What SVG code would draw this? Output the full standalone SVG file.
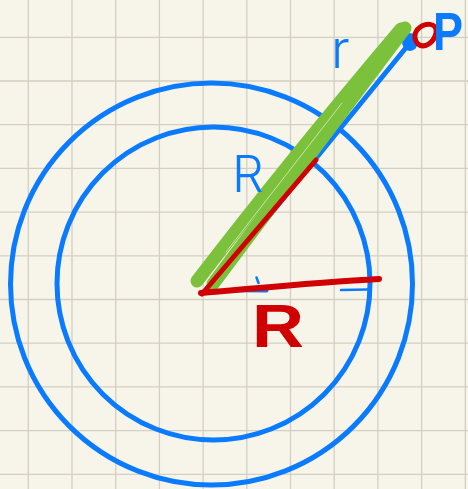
<svg xmlns="http://www.w3.org/2000/svg" width="468" height="489" viewBox="0 0 468 489">
<style>
.grid{stroke:#d3cfc1;stroke-width:1.3;fill:none}
.blue{stroke:#0a7bff;fill:none;stroke-linecap:round;stroke-linejoin:round}
.red{stroke:#d10000;fill:none;stroke-linecap:round;stroke-linejoin:round}
.green{stroke:#7cc13b;fill:none;stroke-linecap:round}
.lbl{font-family:"Liberation Sans",Arial,sans-serif}
</style>
<rect width="468" height="489" fill="#f7f5ea"/>
<g id="grid" class="grid">
<path d="M28.3,0V489M72,0V489M115.7,0V489M159.4,0V489M203.1,0V489M246.8,0V489M290.5,0V489M334.2,0V489M377.9,0V489M421.6,0V489M465.3,0V489"/>
<path d="M0,37.3H468M0,81H468M0,124.7H468M0,168.4H468M0,212.1H468M0,255.8H468M0,299.5H468M0,343.2H468M0,386.9H468M0,430.6H468M0,474.3H468"/>
</g>
<g id="circles" class="blue">
<circle cx="211.5" cy="284" r="201" stroke-width="5"/>
<circle cx="213.5" cy="283.5" r="156.5" stroke-width="5"/>
</g>
<g id="blue-lines" class="blue">
<path d="M208,291 L409,44" stroke-width="5"/>
<ellipse cx="410" cy="42" rx="8" ry="9" fill="#0a7bff" stroke="none"/>
<path d="M204,290.5 L267,291" stroke-width="3"/>
<path d="M256.5,277.5 L258.5,283" stroke-width="2.5"/>
<path d="M341,290 L367,289.5" stroke-width="2.5"/>
</g>
<g id="green-lines" class="green">
<path d="M197,281 Q290,160 401,29" stroke-width="13"/>
<path d="M213,284 Q300,168 405,28" stroke-width="13"/>
<path d="M226,252 L342,103" stroke="#dcebc8" stroke-width="1" opacity="0.8"/>
</g>
<g id="red-lines" class="red">
<path d="M202,294 L316,160" stroke-width="5"/>
<path d="M201,293 C260,288 320,282 379,279" stroke-width="6"/>
<path d="M417,30 C424,22 438,22 436,33 C434,43 424,49 418,44 C414,40 414,34 417,30" stroke-width="5"/>
</g>
<g id="labels" class="lbl">
<text x="232" y="192" font-size="50" font-weight="300" fill="#0a7bff" style="font-family:Inter,'Liberation Sans',sans-serif">R</text>
<text x="331" y="68" font-size="52" font-weight="300" fill="#0a7bff" style="font-family:Inter,'Liberation Sans',sans-serif">r</text>
<text x="433" y="50" font-size="54" font-weight="bold" fill="#0a7bff" textLength="30" lengthAdjust="spacingAndGlyphs">P</text>
<text x="252" y="347" font-size="62" font-weight="bold" fill="#d10000" textLength="52" lengthAdjust="spacingAndGlyphs">R</text>
</g>
</svg>
